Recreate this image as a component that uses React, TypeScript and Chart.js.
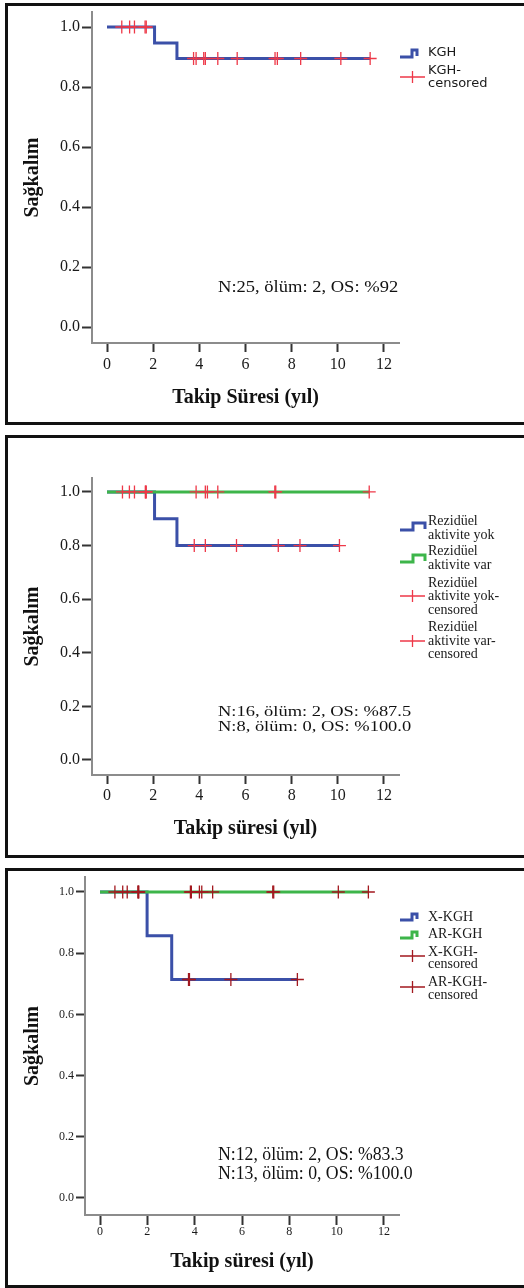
import { useEffect, useRef } from "react";
import { Chart, registerables } from "chart.js";
Chart.register(...registerables);

// ---------- shared axis ticks ----------
const xTickValues = [0, 2, 4, 6, 8, 10, 12];
const xTickLabels = ["0", "2", "4", "6", "8", "10", "12"];
const yTickValues = [0, 0.2, 0.4, 0.6, 0.8, 1.0];
const yTickLabels = ["0.0", "0.2", "0.4", "0.6", "0.8", "1.0"];

const yTitle = "Sağkalım";
const xTitle1 = "Takip Süresi (yıl)";
const xTitle2 = "Takip süresi (yıl)";

// ---------- panel 1 : KGH ----------
const kghTimes = [0, 2.06, 3.03, 11.4];
const kghSurv = [1.0, 0.947, 0.895, 0.895];
const kghCensored = [0.64, 0.98, 1.19, 1.65, 1.7, 3.75, 3.86, 4.19, 4.26, 4.8, 5.64, 7.28, 7.38, 8.39, 10.13, 11.4];
const notes1 = ["N:25, ölüm: 2, OS: %92"];

// ---------- panel 2 : Rezidüel aktivite ----------
const yokTimes = [0, 2.06, 3.03, 10.07];
const yokSurv = [1.0, 0.9, 0.8, 0.8];
const yokCensored = [0.67, 0.97, 1.66, 1.7, 3.78, 4.26, 5.61, 7.42, 8.36, 10.07];
const varTimes = [0, 11.36];
const varSurv = [1.0, 1.0];
const varCensored = [1.19, 1.68, 3.86, 4.26, 4.35, 4.8, 7.27, 7.31, 11.36];
const notes2 = ["N:16, ölüm: 2, OS: %87.5", "N:8, ölüm: 0, OS: %100.0"];

// ---------- panel 3 : X-KGH / AR-KGH ----------
const xkghTimes = [0, 1.99, 3.03, 8.34];
const xkghSurv = [1.0, 0.857, 0.714, 0.714];
const xkghCensored = [0.63, 0.96, 1.6, 1.64, 3.74, 3.78, 5.53, 8.34];
const arkghTimes = [0, 11.34];
const arkghSurv = [1.0, 1.0];
const arkghCensored = [1.15, 1.62, 3.82, 3.86, 4.2, 4.3, 4.76, 7.3, 7.34, 10.07, 11.34];
const notes3 = ["N:12, ölüm: 2, OS: %83.3", "N:13, ölüm: 0, OS: %100.0"];

const BLUE = "#3b50a8";
const GREEN = "#3db54a";
const RED = "#ee3848";
const DARKRED = "#a3191f";

function survAt(times: number[], surv: number[], t: number) {
  let v = surv[0];
  for (let i = 0; i < times.length; i++) if (times[i] <= t + 1e-9) v = surv[i];
  return v;
}

type Series = { times: number[]; surv: number[]; censored: number[]; color: string; order: number };
type LegendItem = { kind: "step" | "plus"; color: string; iy: number; iy2?: number; x1?: number; xs?: number; lines: string[]; ys: number[] };

const panels = [
  {
    key: "p1", top: 3, height: 422,
    axisLeft: 92, axisRight: 399, axisTop: 12, axisBottom: 343,
    xMin: -0.65, xMax: 12.65, yMin: -0.0533, yMax: 1.05,
    tickSize: 16, xTickLen: 9, yTickLen: 10, xTickPad: 3, yTickPad: 2,
    xTitle: xTitle1, xTitleY: 398, yTitleX: 33,
    series: [{ times: kghTimes, surv: kghSurv, censored: kghCensored, color: BLUE, order: 2 }] as Series[],
    censorColor: RED,
    notes: notes1, noteX: 218, noteYs: [288], noteSize: 17, noteScale: 1.09,
    legendFont: '13px "DejaVu Sans"', legendX: 428,
    legend: [
      { kind: "step", color: BLUE, iy: 57, iy2: 50, xs: 412, x1: 417, lines: ["KGH"], ys: [53] },
      { kind: "plus", color: RED, iy: 77, lines: ["KGH-", "censored"], ys: [71, 84] },
    ] as LegendItem[],
  },
  {
    key: "p2", top: 435, height: 423,
    axisLeft: 92, axisRight: 399, axisTop: 478, axisBottom: 775,
    xMin: -0.65, xMax: 12.65, yMin: -0.056, yMax: 1.052,
    tickSize: 16, xTickLen: 9, yTickLen: 10, xTickPad: 2, yTickPad: 2,
    xTitle: xTitle2, xTitleY: 829, yTitleX: 33,
    series: [
      { times: yokTimes, surv: yokSurv, censored: yokCensored, color: BLUE, order: 2 },
      { times: varTimes, surv: varSurv, censored: varCensored, color: GREEN, order: 1 },
    ] as Series[],
    censorColor: RED,
    notes: notes2, noteX: 218, noteYs: [712, 727], noteSize: 15.5, noteScale: 1.19,
    legendFont: '14px "Liberation Serif"', legendX: 428,
    legend: [
      { kind: "step", color: BLUE, iy: 530, iy2: 523, xs: 413, x1: 425, lines: ["Rezidüel", "aktivite yok"], ys: [521, 535] },
      { kind: "step", color: GREEN, iy: 562, iy2: 555, xs: 413, x1: 425, lines: ["Rezidüel", "aktivite var"], ys: [551, 565] },
      { kind: "plus", color: RED, iy: 596, lines: ["Rezidüel", "aktivite yok-", "censored"], ys: [583, 596, 610] },
      { kind: "plus", color: RED, iy: 641, lines: ["Rezidüel", "aktivite var-", "censored"], ys: [627, 641, 654] },
    ] as LegendItem[],
  },
  {
    key: "p3", top: 868, height: 420,
    axisLeft: 85, axisRight: 399, axisTop: 877, axisBottom: 1215,
    xMin: -0.634, xMax: 12.634, yMin: -0.0556, yMax: 1.049,
    tickSize: 12, xTickLen: 10, yTickLen: 9, xTickPad: 0, yTickPad: 2,
    xTitle: xTitle2, xTitleY: 1262, yTitleX: 33,
    series: [
      { times: xkghTimes, surv: xkghSurv, censored: xkghCensored, color: BLUE, order: 2 },
      { times: arkghTimes, surv: arkghSurv, censored: arkghCensored, color: GREEN, order: 1 },
    ] as Series[],
    censorColor: DARKRED,
    notes: notes3, noteX: 218, noteYs: [1155, 1174], noteSize: 18, noteScale: 0.985,
    legendFont: '14px "Liberation Serif"', legendX: 428,
    legend: [
      { kind: "step", color: BLUE, iy: 920, iy2: 914, xs: 412, x1: 417, lines: ["X-KGH"], ys: [917] },
      { kind: "step", color: GREEN, iy: 938, iy2: 932, xs: 412, x1: 417, lines: ["AR-KGH"], ys: [934] },
      { kind: "plus", color: DARKRED, iy: 956, lines: ["X-KGH-", "censored"], ys: [952, 964] },
      { kind: "plus", color: DARKRED, iy: 987, lines: ["AR-KGH-", "censored"], ys: [982, 995] },
    ] as LegendItem[],
  },
];

type PanelSpec = (typeof panels)[number];

function Panel({ p }: { p: PanelSpec }) {
  const ref = useRef<HTMLCanvasElement>(null);
  useEffect(() => {
    const canvas = ref.current!;
    const H = p.height;
    const datasets: any[] = [];
    p.series.forEach((s) => {
      datasets.push({
        data: s.times.map((t, i) => ({ x: t, y: s.surv[i] })),
        borderColor: s.color,
        borderWidth: 3,
        pointRadius: 0,
        stepped: "before",
        fill: false,
        order: s.order,
      });
    });
    p.series.forEach((s) => {
      datasets.push({
        data: s.censored.map((t) => ({ x: t, y: survAt(s.times, s.surv, t) })),
        showLine: false,
        pointStyle: "cross",
        pointRadius: 6.5,
        pointBorderColor: p.censorColor,
        pointBackgroundColor: p.censorColor,
        pointBorderWidth: 1.3,
        order: 0,
      });
    });

    const overlay = {
      id: "overlay",
      afterDraw(chart: any) {
        const ctx = chart.ctx as CanvasRenderingContext2D;
        ctx.save();
        ctx.fillStyle = "#111";
        ctx.textAlign = "left";
        ctx.textBaseline = "middle";
        ctx.font = `${p.noteSize}px "Liberation Serif"`;
        p.notes.forEach((t, i) => {
          ctx.save();
          ctx.translate(p.noteX, p.noteYs[i] - p.top);
          ctx.scale(p.noteScale, 1);
          ctx.fillText(t, 0, 0);
          ctx.restore();
        });
        // legend
        p.legend.forEach((it) => {
          ctx.strokeStyle = it.color;
          if (it.kind === "step") {
            ctx.lineWidth = 3;
            ctx.lineJoin = "miter";
            ctx.lineCap = "butt";
            ctx.beginPath();
            ctx.moveTo(400, it.iy - p.top);
            ctx.lineTo(it.xs!, it.iy - p.top);
            ctx.lineTo(it.xs!, it.iy2! - p.top);
            ctx.lineTo(it.x1!, it.iy2! - p.top);
            ctx.lineTo(it.x1!, it.iy - p.top - 1);
            ctx.stroke();
          } else {
            ctx.lineWidth = 1.3;
            ctx.beginPath();
            ctx.moveTo(400, it.iy - p.top);
            ctx.lineTo(425, it.iy - p.top);
            ctx.moveTo(412.5, it.iy - p.top - 6);
            ctx.lineTo(412.5, it.iy - p.top + 6);
            ctx.stroke();
          }
          ctx.fillStyle = "#1a1a1a";
          ctx.font = p.legendFont;
          it.lines.forEach((l, i) => ctx.fillText(l, p.legendX, it.ys[i] - p.top));
        });
        ctx.restore();
      },
    };

    const tickFont = { family: '"Liberation Serif"', size: p.tickSize };
    const titleFont = { family: '"Liberation Serif"', size: 20, weight: "bold" as const };

    const chart = new Chart(canvas, {
      type: "line",
      data: { datasets },
      options: {
        animation: false,
        responsive: false,
        devicePixelRatio: 1,
        events: [],
        layout: { padding: { left: 0, top: p.axisTop - p.top, right: 524 - p.axisRight, bottom: 0 } },
        plugins: { legend: { display: false }, tooltip: { enabled: false } },
        scales: {
          x: {
            type: "linear",
            min: p.xMin,
            max: p.xMax,
            afterBuildTicks: (s: any) => {
              s.ticks = xTickValues.map((v) => ({ value: v }));
            },
            afterFit: (s: any) => {
              s.height = p.top + H - p.axisBottom;
              s.paddingLeft = 0;
              s.paddingRight = 0;
            },
            ticks: {
              callback: (_v: any, i: number) => xTickLabels[i],
              font: tickFont,
              color: "#1a1a1a",
              padding: p.xTickPad,
              maxRotation: 0,
              autoSkip: false,
            },
            grid: { display: true, drawOnChartArea: false, drawTicks: true, tickLength: p.xTickLen, tickColor: "#333", tickWidth: 2 },
            border: { display: true, color: "#8c8c8c", width: 2 },
            title: {
              display: true,
              text: p.xTitle,
              font: titleFont,
              color: "#111",
              padding: { top: 0, bottom: p.top + H - p.xTitleY - 12 },
            },
          },
          y: {
            type: "linear",
            min: p.yMin,
            max: p.yMax,
            afterBuildTicks: (s: any) => {
              s.ticks = yTickValues.map((v) => ({ value: v }));
            },
            afterFit: (s: any) => {
              s.width = p.axisLeft;
              s.paddingTop = 0;
              s.paddingBottom = 0;
            },
            ticks: {
              callback: (_v: any, i: number) => yTickLabels[i],
              font: tickFont,
              color: "#1a1a1a",
              padding: p.yTickPad,
              autoSkip: false,
            },
            grid: { display: true, drawOnChartArea: false, drawTicks: true, tickLength: p.yTickLen, tickColor: "#333", tickWidth: 2 },
            border: { display: true, color: "#8c8c8c", width: 2 },
            title: {
              display: true,
              text: yTitle,
              font: titleFont,
              color: "#111",
              padding: { top: p.yTitleX - 12, bottom: 0 },
            },
          },
        },
      },
      plugins: [overlay],
    } as any);
    return () => chart.destroy();
  }, [p]);

  return (
    <>
      <div
        style={{
          position: "absolute",
          left: 5,
          top: p.top,
          width: 519,
          height: p.height,
          boxSizing: "border-box",
          border: "3px solid #111",
          borderRight: "none",
        }}
      />
      <canvas
        ref={ref}
        width={524}
        height={p.height}
        style={{ position: "absolute", left: 0, top: p.top, width: 524, height: p.height, display: "block" }}
      />
    </>
  );
}

export default function App() {
  useEffect(() => {
    document.body.style.margin = "0";
    document.body.style.overflow = "hidden";
    document.body.style.background = "#fff";
  }, []);
  return (
    <div style={{ position: "relative", width: 524, height: 1288, overflow: "hidden", background: "#fff" }}>
      {panels.map((p) => (
        <Panel key={p.key} p={p} />
      ))}
    </div>
  );
}
